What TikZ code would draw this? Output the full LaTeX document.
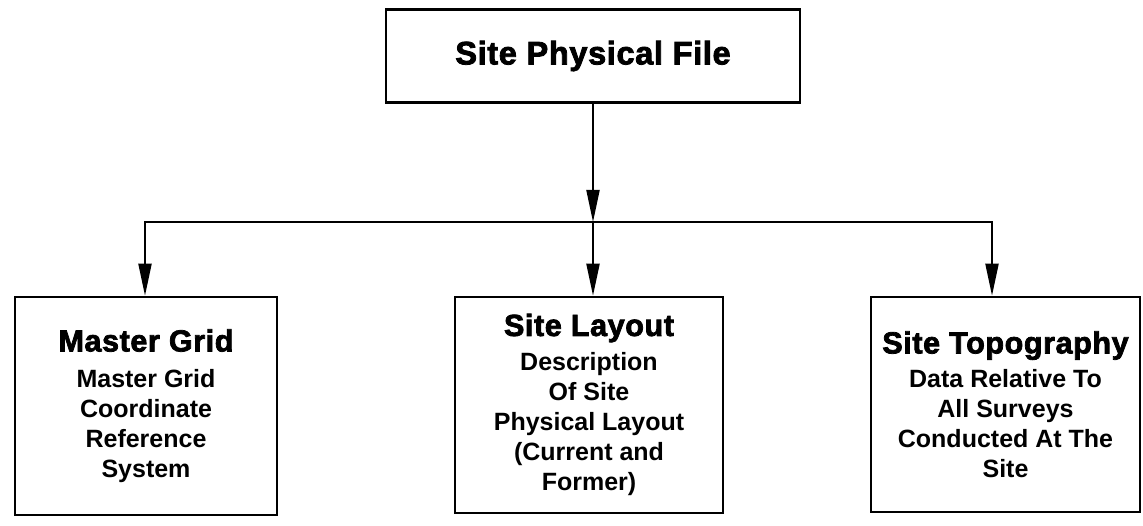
\documentclass[tikz,border=0pt]{standalone}
\usepackage{fontspec}
\setmainfont{Liberation Sans}
\newfontfamily\heavyfont{Liberation Sans}[FakeBold=2.5,LetterSpace=2]
\usetikzlibrary{arrows.meta,calc}

\tikzset{
  box/.style={draw=black, line width=2.6pt, fill=white, inner sep=0pt,
              align=center, font=\fontsize{25}{30}\selectfont\bfseries},
  link/.style={draw=black, line width=2pt,
               -{Triangle[length=32pt,width=13pt]}},
}
\newcommand{\hd}[1]{{\fontsize{30.5}{30}\selectfont\heavyfont\bfseries #1}}

\begin{document}
\begin{tikzpicture}[x=1pt,y=-1pt]
  \useasboundingbox (0,0) rectangle (1143,526);

  % top of the hierarchy
  \node[box, minimum width=414pt, minimum height=93pt,
        font=\fontsize{32.5}{34}\selectfont\heavyfont\bfseries]
    (file) at (593,56) {Site Physical File};

  % the three sub-files
  \node[box, minimum width=262pt, minimum height=218pt] (grid) at (146,406)
    {\hd{Master Grid}\\[6pt]Master Grid\\Coordinate\\Reference\\System};
  \node[box, minimum width=268pt, minimum height=216pt] (layout) at (589,405)
    {\hd{Site Layout}\\[5pt]Description\\Of Site\\Physical Layout\\(Current and\\Former)};
  \node[box, minimum width=269pt, minimum height=215pt] (topo) at (1005.5,404.5)
    {\hd{Site Topography}\\[4pt]Data Relative To\\All Surveys\\Conducted At The\\Site};

  % branching connectors
  \coordinate (split) at (593,222);
  \coordinate (gridin) at (145,222);
  \coordinate (topoin) at (992,222);
  \draw[link] (file.south) -- (split);
  \draw[link] (split) -- (gridin) -- (gridin |- grid.north);
  \draw[link] (split) -- (split |- layout.north);
  \draw[link] (split) -- (topoin) -- (topoin |- topo.north);
\end{tikzpicture}
\end{document}
